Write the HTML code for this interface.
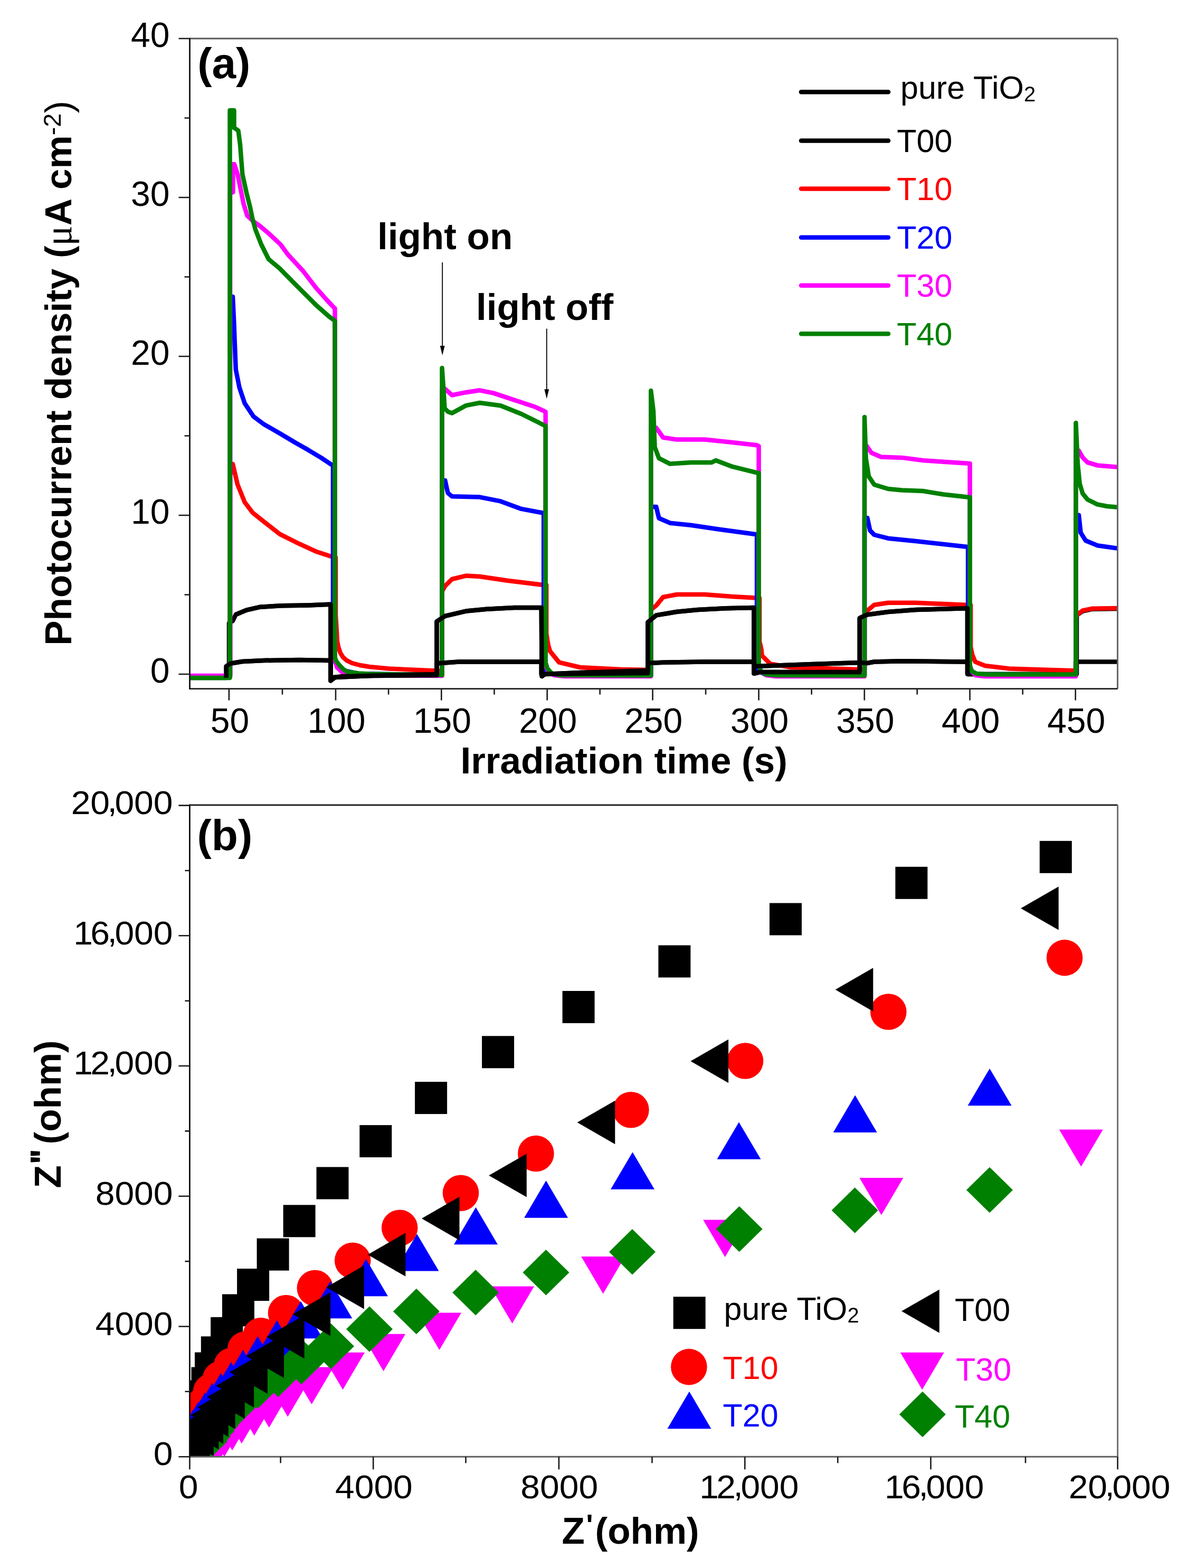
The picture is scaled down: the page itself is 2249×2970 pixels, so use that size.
<!DOCTYPE html><html><head><meta charset="utf-8"><title>Photocurrent and EIS</title>
<style>html,body{margin:0;padding:0;background:#fff;overflow:hidden}svg{display:block}</style></head><body>
<svg width="2249" height="2970" viewBox="0 0 2249 2970">
<rect x="0" y="0" width="2249" height="2970" fill="#fff"/>
<defs>
<clipPath id="ca"><rect x="359.5" y="73.0" width="1758" height="1231.6"/></clipPath>
<clipPath id="cb"><rect x="359.4" y="1524.8" width="1758.2" height="1234.4"/></clipPath>
</defs>
<g clip-path="url(#ca)" fill="none" stroke-linejoin="round" stroke-linecap="butt">
<polyline points="360,1284 428.7,1284 428.7,1262 436.6,1256.7 459,1253 500,1251 567,1250 624,1251 626.5,1252 626.5,1289 635,1283 700,1280 827.5,1279 827.5,1256.5 869.5,1253.5 1024.5,1253.5 1025.8,1254 1025.8,1277 1100,1276 1227.5,1275 1227.5,1256 1256.4,1254.7 1335.2,1253.4 1427,1253.4 1429,1254 1429,1262 1446,1261.4 1540,1258 1630,1255 1643.3,1256 1656.4,1253.5 1709,1252.2 1829.8,1253.5 1834,1254 1834,1277 2038,1277 2038,1253.6 2120,1253.6" stroke="#000" stroke-width="8.5"/>
<polyline points="360,1282 434,1282 434,1180 441,1176 446.8,1164 466.9,1155.6 492,1149.8 533.7,1147.3 584,1146.4 624,1144.8 626.5,1145 626.5,1289.4 632.4,1283 650.8,1281 698.8,1280 751.3,1278.4 827.5,1277 827.5,1177.3 843.3,1166.8 882.7,1157.6 922,1153.7 974.6,1151 1025.8,1151 1026.7,1281 1032,1277 1100,1274 1227.5,1270 1227.5,1178.5 1243.3,1165.4 1282.7,1158.8 1322,1155 1374.6,1152.3 1428.5,1151 1428.5,1275.8 1440,1273 1628.8,1273 1628.8,1170.7 1643.3,1164.2 1682.7,1159 1735.2,1155 1829.8,1152.3 1833,1152 1833,1277 2040,1277 2040,1166 2042,1164 2051.4,1157.5 2070,1153.7 2120,1153" stroke="#000" stroke-width="8.5"/>
<polyline points="360,1281 436,1281 436,900 441,879 450,917.5 463.5,951 478.6,971 500.3,988.4 530.4,1011.9 567.2,1030.2 600.6,1045.3 629,1054.5 636,1056 636,1165 637.5,1190 639,1215 641,1225 645,1237 650,1245 657,1251 667,1256 682,1260 700,1263 737,1266.5 780,1268.5 825,1270.6 837.5,1271 837.5,1120 843.3,1110 856.4,1097 882.7,1090.6 909,1092 961.5,1099.8 1027,1107.7 1035.2,1108 1035.2,1200 1038.7,1222 1042.3,1233.7 1059.4,1254.7 1098.8,1264 1177.6,1268 1233.3,1269 1233.3,1155 1243.3,1147 1256.4,1131 1282.7,1126 1335.2,1126 1387.7,1130 1432.4,1132.6 1439.1,1133 1439.1,1215 1442.6,1230 1443.6,1241.7 1459.4,1257.4 1498.8,1264 1625,1268 1638,1268 1638,1165 1642,1157.6 1656.4,1145.8 1682.7,1141.8 1735.2,1141.8 1829.8,1145.8 1839.1,1146 1839.1,1225 1842.1,1240 1847.8,1253.6 1866.3,1261 1912.5,1266.5 2032.8,1270.2 2038.4,1270 2038.4,1168 2042,1162.9 2051.4,1156.4 2070,1152.7 2120,1152.1" stroke="#ff0000" stroke-width="8.5"/>
<polyline points="360,1281 436,1281 436,600 441,562 443.5,615 444.8,650 446.8,700 453.5,733.6 463.5,763.7 480.3,788.8 500.3,803.8 532,822 560.5,839 584,852.3 609,867.4 629,880.8 631,882 631,1240 633.5,1252 640,1262 650,1270 680,1276 837.5,1279 837.5,910 843.3,910 848.5,933.7 856.4,940.2 909,941.6 948.3,949.4 987.7,963.9 1029.8,971.8 1030.2,972 1030.2,1260 1032.7,1270 1045,1277 1233.3,1279 1233.3,960 1243.3,960 1248.5,981.5 1269.5,990.7 1309,994.7 1361.5,1002.5 1429.8,1011.7 1434.1,1012 1434.1,1260 1436.6,1270 1448,1277 1638,1279 1638,981 1643.3,981 1648.5,1004.8 1656.4,1013 1682.7,1019.7 1735.2,1025 1829.8,1035.5 1834.1,1036 1834.1,1260 1836.6,1270 1848,1277 2038.4,1279 2038.4,975.8 2044,975.8 2047.6,1009 2057,1024 2079.1,1033.2 2120,1039" stroke="#0000ff" stroke-width="8.5"/>
<polyline points="360,1280 436,1280 436,366 441.5,364 441.5,311 444,311 450.2,330 455.8,358 461.5,386 468.5,408.7 481,420 492.3,428 509,442 531.5,463 545,481.6 574,513 599,545.5 619,568 633,582.8 634.5,584 634.5,1250 638.5,1264 650,1275 670,1279 837.5,1280 837.5,736.7 843.3,736.7 856.4,748.5 882.7,743.2 909,739.3 935.2,744.6 974.6,757.7 1014,770.8 1031,778.7 1033.7,780 1033.7,1260 1038.7,1272 1050,1279 1070,1281 1233.3,1281 1233.3,810.3 1243.3,810.3 1256.4,828.7 1282.7,832.6 1335.2,832.6 1387.7,837.9 1434,843.2 1437.6,845 1437.6,1260 1442.1,1272 1452,1279 1470,1281 1638,1281 1638,844.6 1642,844.6 1651,857.7 1669.5,865.6 1709,866.9 1748.3,872 1787.7,874.8 1834,877.7 1837.6,878 1837.6,1260 1841.6,1272 1848,1279 1865,1281 2038.4,1281 2038.4,853.6 2044,853.6 2051.4,866.6 2060.6,875.9 2079.1,881.4 2120,885" stroke="#ff00ff" stroke-width="8.5"/>
<polyline points="360,1284 435.5,1284 435.5,209 443.5,209 443.5,242 448,245 451.5,247.5 455,274 459.3,330 467,365 474,393 478.3,414 484,435 495,463 509,491 529.4,508 554,533 574,553 599,578 624,600 634.5,607.6 634.5,1245 637,1252 642.4,1259.3 650.8,1268 659.4,1273 680,1275.5 698.8,1276.5 837.5,1278.4 837.5,697 840.5,740 842.5,773.5 849,780 856.4,782.6 882.7,768.2 909,763 948.3,768.2 987.7,784 1029.8,805 1033.7,807 1033.7,1255 1037,1266 1045,1275 1060,1279 1233.3,1279.6 1233.3,740 1238,778.8 1240.6,847 1248.5,868 1269.5,878.6 1309,876 1348.3,876 1356.2,872 1387.7,883.9 1435,895.7 1437.6,896 1437.6,1258 1441,1270 1450,1277 1470,1279 1638,1279.5 1638,790 1640.6,868 1646,902.4 1656.4,918 1682.7,926 1709,928.6 1748.3,930 1787.7,936.5 1835,941.8 1837.6,942 1837.6,1262 1841,1271 1850,1276 1870,1277.6 2038.4,1277.6 2038.4,801 2042,879.6 2045.8,916.6 2051.4,935 2060.6,946.2 2079.1,955.4 2097.6,959 2120,961" stroke="#008000" stroke-width="8.5"/>
<polyline points="428.7,1284 428.7,1262 436.6,1256.7 459,1253 500,1251 567,1250 624,1251 626.5,1252 626.5,1289 635,1283 700,1280 827.5,1279 827.5,1256.5 869.5,1253.5 1024.5,1253.5 1025.8,1254 1025.8,1277 1100,1276 1227.5,1275 1227.5,1256 1256.4,1254.7 1335.2,1253.4 1427,1253.4 1429,1254 1429,1262 1446,1261.4 1540,1258 1630,1255 1643.3,1256 1656.4,1253.5 1709,1252.2 1829.8,1253.5" stroke="#000" stroke-width="8.5"/>
<polyline points="446.8,1164 466.9,1155.6 492,1149.8 533.7,1147.3 584,1146.4 624,1144.8 626.5,1145 626.5,1289.4 632.4,1283 650.8,1281 698.8,1280 751.3,1278.4 827.5,1277 827.5,1177.3 843.3,1166.8 882.7,1157.6 922,1153.7 974.6,1151 1025.8,1151 1026.7,1281 1032,1277 1100,1274 1227.5,1270 1227.5,1178.5 1243.3,1165.4 1282.7,1158.8 1322,1155 1374.6,1152.3 1428.5,1151 1428.5,1275.8 1440,1273 1628.8,1273 1628.8,1170.7 1643.3,1164.2 1682.7,1159 1735.2,1155 1829.8,1152.3 1833,1152 1833,1277" stroke="#000" stroke-width="8.5"/>
</g>
<path d="M359.5,73.0H2117.5" stroke="#5a5a5a" stroke-width="3" fill="none"/>
<path d="M2117.5,73.0V1304.6" stroke="#666" stroke-width="3" fill="none"/>
<path d="M359.5,1304.6H2117.5" stroke="#1e1e1e" stroke-width="2.8" fill="none"/>
<path d="M359.5,71.7V1305.8999999999999" stroke="#111" stroke-width="2.8" fill="none"/>
<path d="M359.5,1277h-21 M359.5,1126.5h-10 M359.5,976h-21 M359.5,825.5h-10 M359.5,675h-21 M359.5,524.5h-10 M359.5,374h-21 M359.5,223.5h-10 M359.5,73h-21 M433.9,1304.6v22 M535,1304.6v11 M636,1304.6v22 M736.1,1304.6v11 M836.3,1304.6v22 M936.5,1304.6v11 M1036.7,1304.6v22 M1136.7,1304.6v11 M1236.6,1304.6v22 M1337.1,1304.6v11 M1437.6,1304.6v22 M1537.7,1304.6v11 M1637.8,1304.6v22 M1737.7,1304.6v11 M1837.6,1304.6v22 M1937.7,1304.6v11 M2037.7,1304.6v22" stroke="#1a1a1a" stroke-width="2.6" fill="none"/>
<g font-family='"Liberation Sans", Arial, Helvetica, sans-serif' font-size="66" fill="#000">
<text x="321.5" y="1293.3" text-anchor="end">0</text>
<text x="321.5" y="992.3" text-anchor="end">10</text>
<text x="321.5" y="691.3" text-anchor="end">20</text>
<text x="321.5" y="390.3" text-anchor="end">30</text>
<text x="321.5" y="89.3" text-anchor="end">40</text>
<text x="435.4" y="1388" text-anchor="middle">50</text>
<text x="637.5" y="1388" text-anchor="middle">100</text>
<text x="837.8" y="1388" text-anchor="middle">150</text>
<text x="1038.2" y="1388" text-anchor="middle">200</text>
<text x="1238.1" y="1388" text-anchor="middle">250</text>
<text x="1439.1" y="1388" text-anchor="middle">300</text>
<text x="1639.3" y="1388" text-anchor="middle">350</text>
<text x="1839.1" y="1388" text-anchor="middle">400</text>
<text x="2039.2" y="1388" text-anchor="middle">450</text>
</g>
<text x="872.5" y="1464.5" font-family='"Liberation Sans", Arial, Helvetica, sans-serif' font-weight="bold" font-size="71">Irradiation time (s)</text>
<text transform="translate(135.1,1222.8) rotate(-90)" x="0" y="0" font-family='"Liberation Sans", Arial, Helvetica, sans-serif' font-weight="bold" font-size="71">Photocurrent density (<tspan font-family='"Liberation Serif", "Times New Roman", serif' font-weight="normal">&#956;</tspan>A cm<tspan font-size="47" font-weight="normal" dy="-20">-2</tspan><tspan dy="20" font-weight="normal">)</tspan></text>
<text x="374.2" y="147.5" font-family='"Liberation Sans", Arial, Helvetica, sans-serif' font-weight="bold" font-size="82">(a)</text>
<text x="715" y="471.6" font-family='"Liberation Sans", Arial, Helvetica, sans-serif' font-weight="bold" font-size="71">light on</text>
<text x="902" y="606" font-family='"Liberation Sans", Arial, Helvetica, sans-serif' font-weight="bold" font-size="71">light off</text>
<path d="M838.2,497V660M1035.8,622.4V742" stroke="#000" stroke-width="1.8" fill="none"/>
<path d="M833.8,655L838.2,673L842.6,655Z M1031.4,737.2L1035.8,755.2L1040.2,737.2Z" fill="#000"/>
<line x1="1518" y1="174.3" x2="1683" y2="174.3" stroke="#000" stroke-width="8.5" stroke-linecap="round"/>
<line x1="1518" y1="266.5" x2="1683" y2="266.5" stroke="#000" stroke-width="8.5" stroke-linecap="round"/>
<line x1="1518" y1="357.5" x2="1683" y2="357.5" stroke="#ff0000" stroke-width="8.5" stroke-linecap="round"/>
<line x1="1518" y1="449.7" x2="1683" y2="449.7" stroke="#0000ff" stroke-width="8.5" stroke-linecap="round"/>
<line x1="1518" y1="540.7" x2="1683" y2="540.7" stroke="#ff00ff" stroke-width="8.5" stroke-linecap="round"/>
<line x1="1518" y1="632.3" x2="1683" y2="632.3" stroke="#008000" stroke-width="8.5" stroke-linecap="round"/>
<text x="1706" y="186.8" font-family='"Liberation Sans", Arial, Helvetica, sans-serif' font-size="61" fill="#000">pure TiO<tspan font-size="40" dy="5">2</tspan></text>
<text x="1699.3" y="288" font-family='"Liberation Sans", Arial, Helvetica, sans-serif' font-size="61" fill="#000">T00</text>
<text x="1699.3" y="379" font-family='"Liberation Sans", Arial, Helvetica, sans-serif' font-size="61" fill="#ff0000">T10</text>
<text x="1699.3" y="471.2" font-family='"Liberation Sans", Arial, Helvetica, sans-serif' font-size="61" fill="#0000ff">T20</text>
<text x="1699.3" y="562.2" font-family='"Liberation Sans", Arial, Helvetica, sans-serif' font-size="61" fill="#ff00ff">T30</text>
<text x="1699.3" y="653.8" font-family='"Liberation Sans", Arial, Helvetica, sans-serif' font-size="61" fill="#008000">T40</text>
<g clip-path="url(#cb)">
<rect x="1969.8" y="1592.8" width="61" height="61" fill="#000"/>
<rect x="1696.4" y="1641.8" width="61" height="61" fill="#000"/>
<rect x="1458" y="1710.5" width="61" height="61" fill="#000"/>
<rect x="1247.4" y="1790.5" width="61" height="61" fill="#000"/>
<rect x="1065.6" y="1877" width="61" height="61" fill="#000"/>
<rect x="913.1" y="1962.3" width="61" height="61" fill="#000"/>
<rect x="786.1" y="2049.1" width="61" height="61" fill="#000"/>
<rect x="681.3" y="2131.1" width="61" height="61" fill="#000"/>
<rect x="599.5" y="2210.5" width="61" height="61" fill="#000"/>
<rect x="536.6" y="2282.3" width="61" height="61" fill="#000"/>
<rect x="486.6" y="2345.6" width="61" height="61" fill="#000"/>
<rect x="449.1" y="2403" width="61" height="61" fill="#000"/>
<rect x="420.9" y="2451.4" width="61" height="61" fill="#000"/>
<rect x="399.1" y="2494.8" width="61" height="61" fill="#000"/>
<rect x="380.8" y="2531.3" width="61" height="61" fill="#000"/>
<rect x="369" y="2561.5" width="61" height="61" fill="#000"/>
<rect x="362.5" y="2589.5" width="61" height="61" fill="#000"/>
<rect x="355.5" y="2614.5" width="61" height="61" fill="#000"/>
<rect x="349.5" y="2637.5" width="61" height="61" fill="#000"/>
<rect x="344.5" y="2659.5" width="61" height="61" fill="#000"/>
<rect x="339.5" y="2679.5" width="61" height="61" fill="#000"/>
<rect x="335.5" y="2697.5" width="61" height="61" fill="#000"/>
<rect x="331.5" y="2714.5" width="61" height="61" fill="#000"/>
<rect x="327.5" y="2729.5" width="61" height="61" fill="#000"/>
<circle cx="2017.1" cy="1814.1" r="34.3" fill="#ff0000"/>
<circle cx="1683.3" cy="1916.5" r="34.3" fill="#ff0000"/>
<circle cx="1412" cy="2009.5" r="34.3" fill="#ff0000"/>
<circle cx="1195.4" cy="2102.2" r="34.3" fill="#ff0000"/>
<circle cx="1015.4" cy="2185" r="34.3" fill="#ff0000"/>
<circle cx="873" cy="2259.7" r="34.3" fill="#ff0000"/>
<circle cx="757.2" cy="2325.7" r="34.3" fill="#ff0000"/>
<circle cx="668.2" cy="2387.8" r="34.3" fill="#ff0000"/>
<circle cx="596.8" cy="2439.8" r="34.3" fill="#ff0000"/>
<circle cx="542" cy="2487" r="34.3" fill="#ff0000"/>
<circle cx="494" cy="2530" r="34.3" fill="#ff0000"/>
<circle cx="465" cy="2556" r="34.3" fill="#ff0000"/>
<circle cx="439" cy="2587" r="34.3" fill="#ff0000"/>
<circle cx="418" cy="2612" r="34.3" fill="#ff0000"/>
<circle cx="400" cy="2636" r="34.3" fill="#ff0000"/>
<circle cx="388" cy="2660" r="34.3" fill="#ff0000"/>
<circle cx="378" cy="2678" r="34.3" fill="#ff0000"/>
<circle cx="370" cy="2693" r="34.3" fill="#ff0000"/>
<path d="M1875.1,2023.9L1916.6,2094.3L1833.6,2094.3Z" fill="#0000ff"/>
<path d="M1620.2,2074.6L1661.7,2145L1578.7,2145Z" fill="#0000ff"/>
<path d="M1400,2125.4L1441.5,2195.8L1358.5,2195.8Z" fill="#0000ff"/>
<path d="M1198.5,2182.3L1240,2252.7L1157,2252.7Z" fill="#0000ff"/>
<path d="M1034.6,2236.3L1076.1,2306.7L993.1,2306.7Z" fill="#0000ff"/>
<path d="M901.5,2286.8L943,2357.2L860,2357.2Z" fill="#0000ff"/>
<path d="M790,2337.2L831.5,2407.6L748.5,2407.6Z" fill="#0000ff"/>
<path d="M693.5,2384.8L735,2455.2L652,2455.2Z" fill="#0000ff"/>
<path d="M625.8,2426.8L667.3,2497.2L584.3,2497.2Z" fill="#0000ff"/>
<path d="M570,2464.8L611.5,2535.2L528.5,2535.2Z" fill="#0000ff"/>
<path d="M524.8,2500.8L566.3,2571.2L483.3,2571.2Z" fill="#0000ff"/>
<path d="M488.3,2530.8L529.8,2601.2L446.8,2601.2Z" fill="#0000ff"/>
<path d="M460.4,2556.8L501.9,2627.2L418.9,2627.2Z" fill="#0000ff"/>
<path d="M437.8,2579.8L479.3,2650.2L396.3,2650.2Z" fill="#0000ff"/>
<path d="M418.4,2600.8L459.9,2671.2L376.9,2671.2Z" fill="#0000ff"/>
<path d="M402,2619.8L443.5,2690.2L360.5,2690.2Z" fill="#0000ff"/>
<path d="M388.4,2637.8L429.9,2708.2L346.9,2708.2Z" fill="#0000ff"/>
<path d="M376,2654.8L417.5,2725.2L334.5,2725.2Z" fill="#0000ff"/>
<path d="M366,2669.8L407.5,2740.2L324.5,2740.2Z" fill="#0000ff"/>
<path d="M358,2682.8L399.5,2753.2L316.5,2753.2Z" fill="#0000ff"/>
<path d="M2006.8,2139.4L2089.8,2139.4L2048.3,2209.8Z" fill="#ff00ff"/>
<path d="M1628.4,2231.1L1711.4,2231.1L1669.9,2301.5Z" fill="#ff00ff"/>
<path d="M1332.2,2310.6L1415.2,2310.6L1373.7,2381Z" fill="#ff00ff"/>
<path d="M1101.2,2380.1L1184.2,2380.1L1142.7,2450.5Z" fill="#ff00ff"/>
<path d="M929,2436.4L1012,2436.4L970.5,2506.8Z" fill="#ff00ff"/>
<path d="M791,2486.6L874,2486.6L832.5,2557Z" fill="#ff00ff"/>
<path d="M685.1,2526.8L768.1,2526.8L726.6,2597.2Z" fill="#ff00ff"/>
<path d="M608,2561.8L691,2561.8L649.5,2632.2Z" fill="#ff00ff"/>
<path d="M548.9,2589.6L631.9,2589.6L590.4,2660Z" fill="#ff00ff"/>
<path d="M503.7,2613.2L586.7,2613.2L545.2,2683.6Z" fill="#ff00ff"/>
<path d="M468.3,2633.6L551.3,2633.6L509.8,2704Z" fill="#ff00ff"/>
<path d="M440.3,2648.8L523.3,2648.8L481.8,2719.2Z" fill="#ff00ff"/>
<path d="M416.3,2663.8L499.3,2663.8L457.8,2734.2Z" fill="#ff00ff"/>
<path d="M398.5,2676.8L481.5,2676.8L440,2747.2Z" fill="#ff00ff"/>
<path d="M383.5,2688.8L466.5,2688.8L425,2759.2Z" fill="#ff00ff"/>
<path d="M371.5,2699.8L454.5,2699.8L413,2770.2Z" fill="#ff00ff"/>
<path d="M361.5,2709.8L444.5,2709.8L403,2780.2Z" fill="#ff00ff"/>
<path d="M353.5,2719.8L436.5,2719.8L395,2790.2Z" fill="#ff00ff"/>
<path d="M346.5,2728.8L429.5,2728.8L388,2799.2Z" fill="#ff00ff"/>
<path d="M1875,2210.7L1919,2254L1875,2297.3L1831,2254Z" fill="#008000"/>
<path d="M1619.7,2249.2L1663.7,2292.5L1619.7,2335.8L1575.7,2292.5Z" fill="#008000"/>
<path d="M1400.7,2284.7L1444.7,2328L1400.7,2371.3L1356.7,2328Z" fill="#008000"/>
<path d="M1198,2328L1242,2371.3L1198,2414.6L1154,2371.3Z" fill="#008000"/>
<path d="M1034.5,2366.9L1078.5,2410.2L1034.5,2453.5L990.5,2410.2Z" fill="#008000"/>
<path d="M901.2,2405L945.2,2448.3L901.2,2491.6L857.2,2448.3Z" fill="#008000"/>
<path d="M788.9,2440.7L832.9,2484L788.9,2527.3L744.9,2484Z" fill="#008000"/>
<path d="M700,2474.2L744,2517.5L700,2560.8L656,2517.5Z" fill="#008000"/>
<path d="M627,2506.7L671,2550L627,2593.3L583,2550Z" fill="#008000"/>
<path d="M571,2535.7L615,2579L571,2622.3L527,2579Z" fill="#008000"/>
<path d="M527,2559.7L571,2603L527,2646.3L483,2603Z" fill="#008000"/>
<path d="M488.3,2581.5L532.3,2624.8L488.3,2668.1L444.3,2624.8Z" fill="#008000"/>
<path d="M462.5,2600.7L506.5,2644L462.5,2687.3L418.5,2644Z" fill="#008000"/>
<path d="M445.3,2617.7L489.3,2661L445.3,2704.3L401.3,2661Z" fill="#008000"/>
<path d="M430,2631.7L474,2675L430,2718.3L386,2675Z" fill="#008000"/>
<path d="M418,2644.7L462,2688L418,2731.3L374,2688Z" fill="#008000"/>
<path d="M408,2656.7L452,2700L408,2743.3L364,2700Z" fill="#008000"/>
<path d="M400,2667.7L444,2711L400,2754.3L356,2711Z" fill="#008000"/>
<path d="M393,2677.7L437,2721L393,2764.3L349,2721Z" fill="#008000"/>
<path d="M387,2686.7L431,2730L387,2773.3L343,2730Z" fill="#008000"/>
<path d="M1934.1,1720.4L2005.7,1679.2L2005.7,1761.6Z" fill="#000"/>
<path d="M1582.7,1874.5L1654.3,1833.3L1654.3,1915.7Z" fill="#000"/>
<path d="M1308.5,2010L1380.1,1968.8L1380.1,2051.2Z" fill="#000"/>
<path d="M1093.7,2126L1165.3,2084.8L1165.3,2167.2Z" fill="#000"/>
<path d="M926.2,2226.4L997.8,2185.2L997.8,2267.6Z" fill="#000"/>
<path d="M798.9,2308L870.5,2266.8L870.5,2349.2Z" fill="#000"/>
<path d="M696.7,2376.5L768.3,2335.3L768.3,2417.7Z" fill="#000"/>
<path d="M618.2,2438.2L689.8,2397L689.8,2479.4Z" fill="#000"/>
<path d="M554.5,2489.3L626.1,2448.1L626.1,2530.5Z" fill="#000"/>
<path d="M505.1,2532.2L576.7,2491L576.7,2573.4Z" fill="#000"/>
<path d="M466.4,2568.8L538,2527.6L538,2610Z" fill="#000"/>
<path d="M435.3,2598.9L506.9,2557.7L506.9,2640.1Z" fill="#000"/>
<path d="M409.5,2624.7L481.1,2583.5L481.1,2665.9Z" fill="#000"/>
<path d="M392.3,2646.2L463.9,2605L463.9,2687.4Z" fill="#000"/>
<path d="M374,2665.5L445.6,2624.3L445.6,2706.7Z" fill="#000"/>
<path d="M361.1,2680.5L432.7,2639.3L432.7,2721.7Z" fill="#000"/>
<path d="M351.4,2693.4L423,2652.2L423,2734.6Z" fill="#000"/>
<path d="M342.8,2704.2L414.4,2663L414.4,2745.4Z" fill="#000"/>
<path d="M333.2,2716.6L404.8,2675.4L404.8,2757.8Z" fill="#000"/>
<path d="M326.2,2727L397.8,2685.8L397.8,2768.2Z" fill="#000"/>
<path d="M321.2,2737L392.8,2695.8L392.8,2778.2Z" fill="#000"/>
</g>
<path d="M359.4,1524.8H2117.6" stroke="#151515" stroke-width="2.8" fill="none"/>
<path d="M2117.6,1524.8V2759.2" stroke="#707070" stroke-width="3" fill="none"/>
<path d="M359.4,2759.2H2117.6" stroke="#606060" stroke-width="3" fill="none"/>
<path d="M359.4,1523.5V2760.5" stroke="#111" stroke-width="2.8" fill="none"/>
<path d="M359.4,2759.2h-21 M359.4,2635.8h-9 M359.4,2512.5h-21 M359.4,2389.1h-9 M359.4,2265.8h-21 M359.4,2142.4h-9 M359.4,2019h-21 M359.4,1895.7h-9 M359.4,1772.3h-21 M359.4,1649h-9 M359.4,1525.6h-21 M359.4,2759.2v24 M531.6,2759.2v12 M707.2,2759.2v24 M882.5,2759.2v12 M1058.9,2759.2v24 M1235.5,2759.2v12 M1411.3,2759.2v24 M1587.3,2759.2v12 M1763.5,2759.2v24 M1943,2759.2v12 M2117.6,2759.2v24" stroke="#1a1a1a" stroke-width="2.6" fill="none"/>
<g font-family='"Liberation Sans", Arial, Helvetica, sans-serif' font-size="66" fill="#000">
<text transform="matrix(1,0,0,0.955,0,124.9)" x="327.5" y="2775.4" text-anchor="end">0</text>
<text transform="matrix(1,0,0,0.955,0,113.8)" x="327.5" y="2528.7" text-anchor="end">4000</text>
<text transform="matrix(1,0,0,0.955,0,102.7)" x="327.5" y="2282" text-anchor="end">8000</text>
<text transform="matrix(1,0,0,0.955,0,91.6)" x="327.5" y="2035.2" text-anchor="end">1<tspan dx="-4.5">2</tspan><tspan dx="-4.5" dy="-4">,</tspan><tspan dx="-4.5" dy="4">000</tspan></text>
<text transform="matrix(1,0,0,0.955,0,80.5)" x="327.5" y="1788.5" text-anchor="end">1<tspan dx="-4.5">6</tspan><tspan dx="-4.5" dy="-4">,</tspan><tspan dx="-4.5" dy="4">000</tspan></text>
<text transform="matrix(1,0,0,0.955,0,69.4)" x="327.5" y="1541.8" text-anchor="end">20<tspan dx="-4.5" dy="-4">,</tspan><tspan dx="-4.5" dy="4">000</tspan></text>
<text transform="matrix(1,0,0,0.955,0,127.7)" x="375.5" y="2837.5" text-anchor="end">0</text>
<text transform="matrix(1,0,0,0.955,0,127.7)" x="781.8" y="2837.5" text-anchor="end">4000</text>
<text transform="matrix(1,0,0,0.955,0,127.7)" x="1059.7" y="2837.5" text-anchor="middle">8000</text>
<text transform="matrix(1,0,0,0.955,0,127.7)" x="1513.5" y="2837.5" text-anchor="end">1<tspan dx="-4.5">2</tspan><tspan dx="-4.5" dy="-4">,</tspan><tspan dx="-4.5" dy="4">000</tspan></text>
<text transform="matrix(1,0,0,0.955,0,127.7)" x="1864.5" y="2837.5" text-anchor="end">1<tspan dx="-4.5">6</tspan><tspan dx="-4.5" dy="-4">,</tspan><tspan dx="-4.5" dy="4">000</tspan></text>
<text transform="matrix(1,0,0,0.955,0,127.7)" x="2217.5" y="2837.5" text-anchor="end">20<tspan dx="-4.5" dy="-4">,</tspan><tspan dx="-4.5" dy="4">000</tspan></text>
</g>
<text x="373.5" y="1609.5" font-family='"Liberation Sans", Arial, Helvetica, sans-serif' font-weight="bold" font-size="82">(b)</text>
<g font-family='"Liberation Sans", Arial, Helvetica, sans-serif' font-weight="bold" font-size="71">
<text x="1064.5" y="2923.8">Z</text><text x="1110.4" y="2906.5" font-size="55">&#39;</text><text x="1127.5" y="2923.8">(ohm)</text>
<g transform="translate(115.3,2249) rotate(-90)"><text x="-1.5" y="0">Z</text><text x="43.8" y="-8">&#39;</text><text x="55.7" y="-8">&#39;</text><text x="81.5" y="0">(ohm)</text></g>
</g>
<rect x="1275.7" y="2456.2" width="61" height="61" fill="#000"/>
<path d="M1708.2,2483.6L1779.8,2442.4L1779.8,2524.8Z" fill="#000"/>
<circle cx="1305.4" cy="2589.1" r="34.3" fill="#ff0000"/>
<path d="M1705.8,2561.8L1788.8,2561.8L1747.3,2632.2Z" fill="#ff00ff"/>
<path d="M1306,2635.8L1347.5,2706.2L1264.5,2706.2Z" fill="#0000ff"/>
<path d="M1747.9,2635.7L1791.9,2679L1747.9,2722.3L1703.9,2679Z" fill="#008000"/>
<g font-family='"Liberation Sans", Arial, Helvetica, sans-serif' font-size="61">
<text x="1371.5" y="2500.3">pure TiO<tspan font-size="40" dy="5">2</tspan></text>
<text x="1809" y="2501.5">T00</text>
<text x="1369.5" y="2611.9" fill="#ff0000">T10</text>
<text x="1811" y="2615.2" fill="#ff00ff">T30</text>
<text x="1369.5" y="2701.7" fill="#0000ff">T20</text>
<text x="1809" y="2703.8" fill="#008000">T40</text>
</g>
</svg></body></html>
